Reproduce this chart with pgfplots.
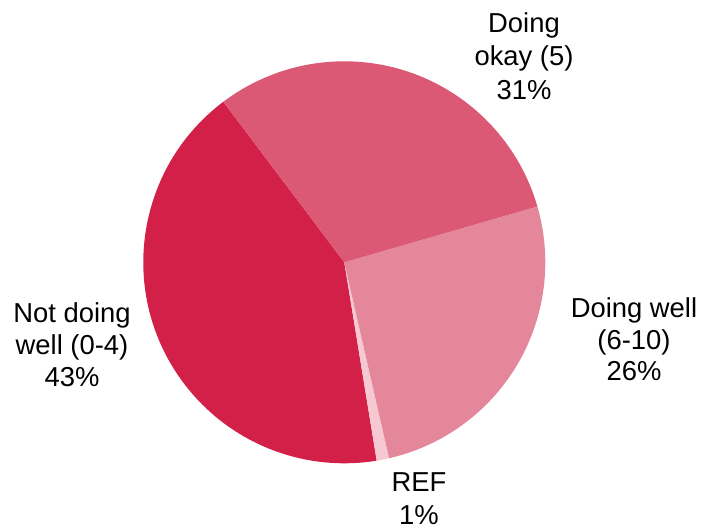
\documentclass[border=0pt]{standalone}
\usepackage{pgfplots}
\pgfplotsset{compat=1.18}
\usepackage{fontspec}
\setmainfont{Liberation Sans}
\definecolor{cNot}{HTML}{D22048}
\definecolor{cRef}{HTML}{F6C8D2}
\definecolor{cWell}{HTML}{E5879A}
\definecolor{cOkay}{HTML}{DC5976}
\newcommand{\lab}{\fontsize{27.5}{33}\selectfont}
\begin{document}
\begin{tikzpicture}
\begin{axis}[
  width=705bp, height=527bp, scale only axis,
  xmin=0, xmax=705, ymin=0, ymax=527,
  hide axis, clip=false]
\path (axis cs:0,0) rectangle (axis cs:705,527);
% shares in percent, drawn counter-clockwise starting at 127 degrees
\gdef\startang{127}
\foreach \v/\c in {42.3/cNot, 1.0/cRef, 25.9/cWell, 30.8/cOkay}{
  \pgfmathsetmacro\e{\startang+3.6*\v}
  \edef\temp{\noexpand\fill[\c] (axis cs:344.3,264.7) -- ++(\startang:201bp) arc[start angle=\startang, end angle=\e, radius=201bp] -- cycle;}
  \temp
  \xdef\startang{\e}
}
\tikzset{lbl/.style={anchor=base, font=\lab, inner sep=0pt}}
\node[lbl] at (axis cs:524,494.3) {Doing};
\node[lbl] at (axis cs:524,461) {okay (5)};
\node[lbl] at (axis cs:524,427.7) {31\%};
\node[lbl] at (axis cs:634,209.3) {Doing well};
\node[lbl] at (axis cs:634,177) {(6-10)};
\node[lbl] at (axis cs:634,146) {26\%};
\node[lbl] at (axis cs:72,204.3) {Not doing};
\node[lbl] at (axis cs:72,172.5) {well (0-4)};
\node[lbl] at (axis cs:72,140.3) {43\%};
\node[lbl] at (axis cs:419,35.5) {REF};
\node[lbl] at (axis cs:419,3) {1\%};
\end{axis}
\end{tikzpicture}
\end{document}
